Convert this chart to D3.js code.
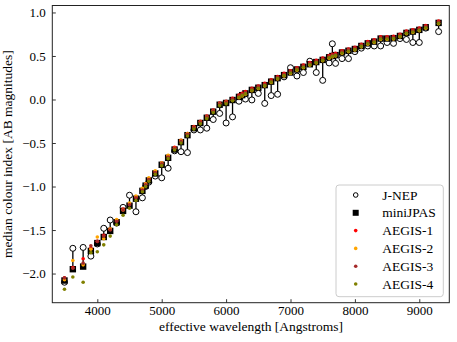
<!DOCTYPE html>
<html>
<head>
<meta charset="utf-8">
<script src="https://cdn.jsdelivr.net/npm/d3@7"></script>
<style>
  body { margin: 0; background: #fff; }
  svg { font-family: "Liberation Serif", "DejaVu Serif", serif; }
</style>
</head>
<body>
<div id="chart"></div>
<script>
const wavelengths = [3490, 3620, 3780, 3900, 4000, 4100, 4200, 4300, 4400, 4500,
  4600, 4700, 4750, 4800, 4900, 5000, 5100, 5200, 5300, 5400,
  5500, 5600, 5700, 5800, 5900, 6000, 6100, 6200, 6250, 6300,
  6400, 6500, 6600, 6700, 6800, 6900, 7000, 7100, 7200, 7300,
  7400, 7500, 7600, 7650, 7700, 7800, 7900, 8000, 8100, 8200,
  8300, 8400, 8500, 8600, 8700, 8800, 8900, 9000, 9100, 9300];

const miniJPAS = [-2.08, -1.95, -1.92, -1.74, -1.65, -1.58, -1.51, -1.41, -1.28, -1.22,
  -1.14, -1.05, -0.99, -0.93, -0.85, -0.75, -0.67, -0.575, -0.49, -0.41,
  -0.33, -0.27, -0.21, -0.14, -0.06, -0.04, -0.006, 0.03, 0.05, 0.07,
  0.11, 0.135, 0.165, 0.205, 0.245, 0.28, 0.31, 0.345, 0.375, 0.405,
  0.43, 0.455, 0.485, 0.50, 0.51, 0.54, 0.56, 0.58, 0.615, 0.645,
  0.665, 0.70, 0.70, 0.705, 0.73, 0.765, 0.78, 0.80, 0.83, 0.88];

const jnep = [-2.10, -1.71, -1.70, -1.80, -1.66, -1.48, -1.385, -1.42, -1.24, -1.10,
  -1.29, -1.13, -1.00, -0.95, -0.88, -0.90, -0.79, -0.59, -0.60, -0.61,
  -0.35, -0.35, -0.33, -0.23, -0.16, -0.27, -0.20, -0.02, 0.04, 0.005,
  -0.005, 0.07, -0.045, 0.045, 0.06, 0.26, 0.365, 0.27, 0.31, 0.44,
  0.31, 0.22, 0.42, 0.64, 0.415, 0.47, 0.47, 0.55, 0.59, 0.615,
  0.615, 0.615, 0.655, 0.645, 0.70, 0.69, 0.655, 0.655, 0.82, 0.78];

const aegis1 = [-2.05, -1.93, -1.83, -1.71, -1.63, -1.56, -1.49, -1.39, -1.26, -1.20,
  -1.12, -1.03, -0.97, -0.91, -0.83, -0.73, -0.65, -0.55, -0.47, -0.39,
  -0.31, -0.25, -0.19, -0.12, -0.04, -0.02, 0.015, 0.05, 0.07, 0.09,
  0.13, 0.155, 0.185, 0.225, 0.265, 0.30, 0.33, 0.365, 0.395, 0.425,
  0.45, 0.475, 0.505, 0.52, 0.53, 0.56, 0.58, 0.60, 0.635, 0.665,
  0.685, 0.72, 0.72, 0.725, 0.75, 0.785, 0.80, 0.82, 0.85, 0.90];

const aegis2 = [-2.07, -1.85, -1.90, -1.72, -1.58, -1.60, -1.49, -1.38, -1.27, -1.19,
  -1.11, -1.02, -0.97, -0.90, -0.82, -0.73, -0.64, -0.56, -0.47, -0.39,
  -0.32, -0.26, -0.20, -0.13, -0.05, -0.03, -0.01, 0.02, 0.04, 0.06,
  0.10, 0.125, 0.155, 0.195, 0.235, 0.27, 0.30, 0.335, 0.365, 0.395,
  0.42, 0.445, 0.475, 0.49, 0.50, 0.53, 0.55, 0.57, 0.605, 0.635,
  0.655, 0.69, 0.69, 0.695, 0.72, 0.755, 0.77, 0.79, 0.82, 0.87];

const aegis3 = [-2.05, -1.94, -1.88, -1.68, -1.63, -1.57, -1.50, -1.40, -1.27, -1.21,
  -1.13, -1.04, -0.98, -0.92, -0.84, -0.74, -0.66, -0.565, -0.48, -0.40,
  -0.32, -0.26, -0.20, -0.13, -0.05, -0.03, 0.004, 0.04, 0.06, 0.08,
  0.12, 0.145, 0.175, 0.215, 0.255, 0.29, 0.32, 0.355, 0.385, 0.415,
  0.44, 0.465, 0.495, 0.51, 0.52, 0.55, 0.57, 0.59, 0.625, 0.655,
  0.675, 0.71, 0.71, 0.715, 0.74, 0.775, 0.79, 0.81, 0.84, 0.89];

const aegis4 = [-2.18, -2.04, -2.10, -1.76, -1.75, -1.67, -1.57, -1.44, -1.33, -1.25,
  -1.16, -1.06, -1.00, -0.94, -0.86, -0.76, -0.68, -0.58, -0.50, -0.42,
  -0.34, -0.28, -0.22, -0.15, -0.07, -0.05, -0.015, 0.025, 0.045, 0.065,
  0.105, 0.13, 0.16, 0.20, 0.24, 0.275, 0.305, 0.34, 0.37, 0.40,
  0.425, 0.45, 0.48, 0.495, 0.505, 0.535, 0.555, 0.575, 0.61, 0.64,
  0.66, 0.695, 0.695, 0.70, 0.725, 0.76, 0.775, 0.795, 0.825, 0.875];

const xTicks = [4000, 5000, 6000, 7000, 8000, 9000];
const yTicks = [-2.0, -1.5, -1.0, -0.5, 0.0, 0.5, 1.0];

const aegisSeries = [
  { name: "AEGIS-1", values: aegis1, color: "#ff0000" },
  { name: "AEGIS-2", values: aegis2, color: "#ffa500" },
  { name: "AEGIS-3", values: aegis3, color: "#a52a2a" },
  { name: "AEGIS-4", values: aegis4, color: "#808000" }
];

const width = 457;
const height = 342;
const margin = { top: 5.5, right: 7.7, bottom: 39.3, left: 52.3 };

const svg = d3.select("#chart").append("svg")
  .attr("width", width)
  .attr("height", height);

const x = d3.scaleLinear()
  .domain([3301, 9466])
  .range([margin.left, width - margin.right]);

const y = d3.scaleLinear()
  .domain([-2.335, 1.08])
  .range([height - margin.bottom, margin.top]);

const rows = wavelengths.map((w, i) => ({ w, mini: miniJPAS[i], jnep: jnep[i] }));

const plot = svg.append("g");

// connecting lines J-NEP -> miniJPAS
plot.selectAll("line.link")
  .data(rows)
  .join("line")
  .attr("class", "link")
  .attr("x1", d => x(d.w))
  .attr("x2", d => x(d.w))
  .attr("y1", d => y(d.jnep))
  .attr("y2", d => y(d.mini))
  .attr("stroke", "#000")
  .attr("stroke-width", 1.3);

plot.selectAll("circle.jnep")
  .data(rows)
  .join("circle")
  .attr("class", "jnep")
  .attr("cx", d => x(d.w))
  .attr("cy", d => y(d.jnep))
  .attr("r", 3)
  .attr("fill", "#fff")
  .attr("stroke", "#000")
  .attr("stroke-width", 1);

plot.selectAll("rect.mini")
  .data(rows)
  .join("rect")
  .attr("class", "mini")
  .attr("x", d => x(d.w) - 3.2)
  .attr("y", d => y(d.mini) - 3.2)
  .attr("width", 6.4)
  .attr("height", 6.4)
  .attr("fill", "#000");

aegisSeries.forEach(s => {
  plot.append("g")
    .selectAll("circle")
    .data(s.values)
    .join("circle")
    .attr("cx", (d, i) => x(wavelengths[i]))
    .attr("cy", d => y(d))
    .attr("r", 1.8)
    .attr("fill", s.color);
});

// axes with inward ticks
const xAxis = svg.append("g")
  .attr("transform", `translate(0,${height - margin.bottom})`)
  .call(d3.axisBottom(x).tickValues(xTicks).tickSize(-3.5).tickPadding(3.5).tickFormat(d3.format("d")));

const yAxis = svg.append("g")
  .attr("transform", `translate(${margin.left},0)`)
  .call(d3.axisLeft(y).tickValues(yTicks).tickSize(-3.5).tickPadding(6.5).tickFormat(d3.format(".1f")));

[xAxis, yAxis].forEach(g => {
  g.select(".domain").remove();
  g.selectAll(".tick line").attr("stroke", "#000").attr("stroke-width", 0.8);
  g.selectAll(".tick text")
    .attr("fill", "#000")
    .style("font-size", "13px")
    .style("font-family", "Liberation Serif, serif");
});

// frame
svg.append("rect")
  .attr("x", margin.left)
  .attr("y", margin.top)
  .attr("width", width - margin.left - margin.right)
  .attr("height", height - margin.top - margin.bottom)
  .attr("fill", "none")
  .attr("stroke", "#222")
  .attr("stroke-width", 1);

svg.append("text")
  .attr("x", 251)
  .attr("y", 331)
  .attr("text-anchor", "middle")
  .style("font-size", "13.5px")
  .text("effective wavelength [Angstroms]");

svg.append("text")
  .attr("transform", `translate(12,${(margin.top + height - margin.bottom) / 2}) rotate(-90)`)
  .attr("text-anchor", "middle")
  .style("font-size", "13.5px")
  .text("median colour index [AB magnitudes]");

// legend
const legend = svg.append("g");
legend.append("rect")
  .attr("x", 336)
  .attr("y", 185)
  .attr("width", 107.3)
  .attr("height", 111.7)
  .attr("rx", 3)
  .attr("fill", "#fff")
  .attr("fill-opacity", 0.8)
  .attr("stroke", "#cccccc")
  .attr("stroke-width", 1);

const legendItems = ["J-NEP", "miniJPAS"].concat(aegisSeries.map(s => s.name));
legendItems.forEach((name, i) => {
  const g = legend.append("g")
    .attr("transform", `translate(355.7, ${195 + i * 17.8})`);
  if (i === 0) {
    g.append("circle").attr("r", 2.3).attr("fill", "#fff").attr("stroke", "#000").attr("stroke-width", 1);
  } else if (i === 1) {
    g.append("rect").attr("x", -3).attr("y", -3).attr("width", 6).attr("height", 6).attr("fill", "#000");
  } else {
    g.append("circle").attr("r", 1.8).attr("fill", aegisSeries[i - 2].color);
  }
  g.append("text")
    .attr("x", 26.5)
    .attr("y", 4.5)
    .style("font-size", "13.5px")
    .text(name);
});
</script>
</body>
</html>
